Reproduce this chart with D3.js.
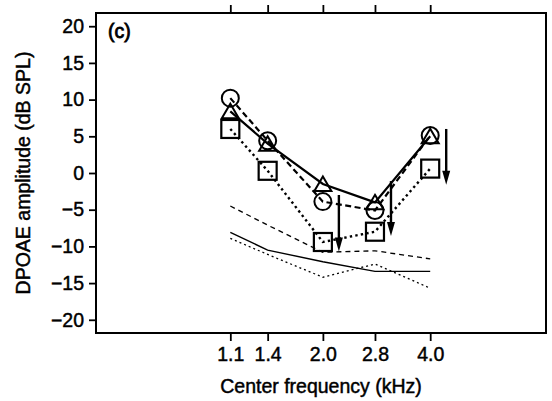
<!DOCTYPE html>
<html>
<head>
<meta charset="utf-8">
<script src="https://cdn.jsdelivr.net/npm/d3@7"></script>
<style>
  body { margin: 0; background: #fff; }
  svg { display: block; font-family: "Liberation Sans", Arial, Helvetica, sans-serif; }
  svg text { stroke: #000; stroke-width: 0.45px; fill: #000; }
</style>
</head>
<body>
<svg id="view" width="552" height="401"></svg>
<script>
// values (dB SPL)
var freqs = [1.1, 1.4, 2.0, 2.8, 4.0];
var freqLabels = ['1.1', '1.4', '2.0', '2.8', '4.0'];
var circleVals = [10.2, 4.4, -3.9, -5.1, 5.1];
var triangleVals = [8.4, 4.0, -1.5, -4.0, 5.0];
var squareVals = [6.0, 0.3, -9.4, -8.0, 0.6];
var noiseDashed = [-4.5, -7.1, -10.8, -10.6, -11.7];
var noiseSolid = [-8.1, -10.5, -12.1, -13.4, -13.4];
var noiseDotted = [-8.9, -11.1, -14.2, -12.4, -15.7];
var arrowFreqs = [2.0, 2.8, 4.0];
var arrowTop = [-3.0, -1.1, 6.0];
var arrowBottom = [-10.7, -8.6, -1.6];
var yTicks = [20, 15, 10, 5, 0, -5, -10, -15, -20];

var svg = d3.select('svg#view');
var frameL = 96, frameR = 546, frameT = 13, frameB = 333;

var x = d3.scaleLog().domain([0.462, 8.45]).range([frameL, frameR]);
var y = d3.scaleLinear().domain([-21.8, 21.8]).range([frameB, frameT]);

// axes
var fmt = d3.format('d');
svg.append('g').attr('transform', 'translate(' + frameL + ',0)')
	.call(d3.axisLeft(y).tickValues(yTicks).tickFormat(fmt).tickSize(7).tickSizeOuter(0).tickPadding(5));
svg.append('g').attr('transform', 'translate(0,' + frameB + ')')
	.call(d3.axisBottom(x).tickValues(freqs).tickFormat(function(d, i) { return freqLabels[i]; }).tickSize(8).tickSizeOuter(0).tickPadding(6));
svg.append('g').attr('transform', 'translate(0,' + frameT + ')')
	.call(d3.axisTop(x).tickValues(freqs).tickFormat('').tickSize(8).tickSizeOuter(0));

svg.selectAll('.domain').remove();
svg.selectAll('.tick line').attr('stroke', '#000').attr('stroke-width', 1.8);
svg.selectAll('.tick text').attr('font-size', 19.5)
	.style('font-family', '"Liberation Sans", Arial, sans-serif');

// frame
svg.append('rect').attr('x', frameL).attr('y', frameT).attr('width', frameR - frameL).attr('height', frameB - frameT)
	.attr('fill', 'none').attr('stroke', '#000').attr('stroke-width', 2);

// titles
svg.append('text').attr('x', (frameL + frameR) / 2).attr('y', 393).attr('text-anchor', 'middle')
	.attr('font-size', 19.5).text('Center frequency (kHz)');
svg.append('text').attr('transform', 'translate(30,' + ((frameT + frameB) / 2) + ') rotate(-90)')
	.attr('text-anchor', 'middle').attr('font-size', 19.5).text('DPOAE amplitude (dB SPL)');
svg.append('text').attr('x', 108).attr('y', 38).attr('font-size', 19.5).style('stroke-width', '0.8px').text('(c)');

var line = d3.line().x(function(d, i) { return x(freqs[i]); }).y(function(d) { return y(d); });

// noise floor, thin lines
svg.append('path').datum(noiseDashed).attr('d', line).attr('fill', 'none').attr('stroke', '#000')
	.attr('stroke-width', 1.3).attr('stroke-dasharray', '5,4');
svg.append('path').datum(noiseSolid).attr('d', line).attr('fill', 'none').attr('stroke', '#000')
	.attr('stroke-width', 1.4);
svg.append('path').datum(noiseDotted).attr('d', line).attr('fill', 'none').attr('stroke', '#000')
	.attr('stroke-width', 1.3).attr('stroke-dasharray', '2,3');

// data lines
svg.append('path').datum(triangleVals).attr('d', line).attr('fill', 'none').attr('stroke', '#000')
	.attr('stroke-width', 2.2);
svg.append('path').datum(circleVals).attr('d', line).attr('fill', 'none').attr('stroke', '#000')
	.attr('stroke-width', 2.2).attr('stroke-dasharray', '6,3.5');
svg.append('path').datum(squareVals).attr('d', line).attr('fill', 'none').attr('stroke', '#000')
	.attr('stroke-width', 2.4).attr('stroke-dasharray', '2.4,3.2');

// markers
svg.selectAll('circle.c').data(circleVals).enter().append('circle')
	.attr('cx', function(d, i) { return x(freqs[i]); }).attr('cy', function(d) { return y(d); })
	.attr('r', 8.5).attr('fill', 'none').attr('stroke', '#000').attr('stroke-width', 2);

svg.selectAll('path.tri').data(triangleVals).enter().append('path')
	.attr('d', function(d, i) {
		var cx = x(freqs[i]), cy = y(d);
		return 'M' + cx + ',' + (cy - 7.5) + 'L' + (cx + 8.5) + ',' + (cy + 7) + 'L' + (cx - 8.5) + ',' + (cy + 7) + 'Z';
	})
	.attr('fill', 'none').attr('stroke', '#000').attr('stroke-width', 2);

svg.selectAll('rect.sq').data(squareVals).enter().append('rect')
	.attr('x', function(d, i) { return x(freqs[i]) - 9; }).attr('y', function(d) { return y(d) - 9; })
	.attr('width', 18).attr('height', 18).attr('fill', 'none').attr('stroke', '#000').attr('stroke-width', 2.2);

// downward arrows just right of the points
var arrowOffset = 16;
arrowFreqs.forEach(function(f, i) {
	var ax = x(f) + arrowOffset;
	var y0 = y(arrowTop[i]), y1 = y(arrowBottom[i]);
	svg.append('line').attr('x1', ax).attr('x2', ax).attr('y1', y0).attr('y2', y1 - 8)
		.attr('stroke', '#000').attr('stroke-width', 2.4);
	svg.append('path').attr('d', 'M' + (ax - 4) + ',' + (y1 - 14) + 'L' + (ax + 4) + ',' + (y1 - 14) + 'L' + ax + ',' + y1 + 'Z')
		.attr('fill', '#000');
});
</script>
</body>
</html>
